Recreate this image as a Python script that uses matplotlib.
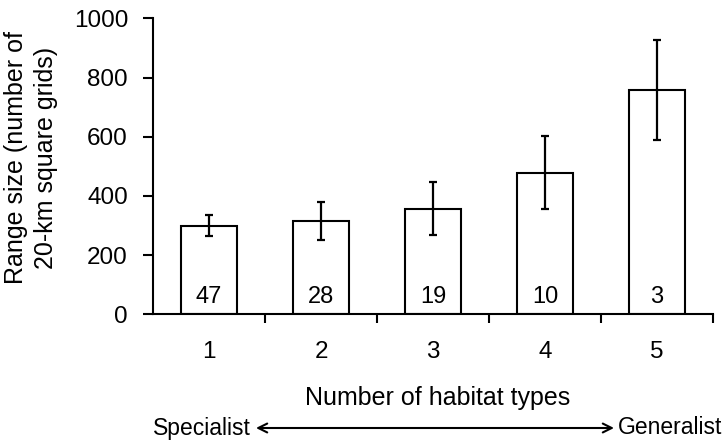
import matplotlib
matplotlib.use("Agg")
import matplotlib.pyplot as plt
import numpy as np

plt.rcParams['font.family'] = ['Liberation Sans', 'DejaVu Sans']

categories = ['1', '2', '3', '4', '5']
means = [299, 315, 356, 477, 758]
lows = [264, 250, 267, 355, 589]
highs = [335, 378, 446, 601, 927]
counts = ['47', '28', '19', '10', '3']
yticks = [0, 200, 400, 600, 800, 1000]

W, H = 728, 446
fig = plt.figure(figsize=(W / 100, H / 100), dpi=100)
ax = fig.add_axes([153 / W, 1 - 314.3 / H, (713 - 153) / W, (314.3 - 18.3) / H])

x = np.arange(len(categories))
means_a = np.array(means)
yerr = np.vstack([means_a - np.array(lows), np.array(highs) - means_a])
ax.bar(x, means, width=0.5, color='white', edgecolor='black', linewidth=1.5, zorder=2)
ax.errorbar(x, means, yerr=yerr, fmt='none', ecolor='black', elinewidth=1.6,
            capsize=2.8, capthick=1.6, zorder=3)

for xi, c in zip(x, counts):
    ax.annotate(c, (xi, 0), xytext=(0, 12.5), textcoords='offset points',
                ha='center', va='center', fontsize=17)

ax.set_xlim(-0.5, 4.5)
ax.set_ylim(0, 1000)
ax.set_yticks(yticks)
ax.set_yticklabels([str(v) for v in yticks], fontsize=17.5)
ax.set_xticks(x)
ax.set_xticklabels(categories, fontsize=17.5)
ax.set_xticks(np.arange(0.5, 5.0, 1.0), minor=True)
ax.tick_params(axis='x', which='major', length=0, pad=19)
ax.tick_params(axis='x', which='minor', length=6.5, width=1.5, direction='out')
ax.tick_params(axis='y', length=7, width=1.5, direction='out', pad=11)

for s in ['top', 'right']:
    ax.spines[s].set_visible(False)
for s in ['left', 'bottom']:
    ax.spines[s].set_linewidth(1.5)

fig.text(31 / W, 1 - 158 / H, 'Range size (number of\n20-km square grids)',
         rotation=90, ha='center', va='center', multialignment='center',
         fontsize=18, linespacing=1.35)
fig.text(437.5 / W, 1 - 398 / H, 'Number of habitat types', ha='center',
         va='center', fontsize=18)
fig.text(153 / W, 1 - 428 / H, 'Specialist', ha='left', va='center', fontsize=16.5)
fig.text(722 / W, 1 - 428 / H, 'Generalist', ha='right', va='center', fontsize=16.5)
fig.add_artist(matplotlib.patches.FancyArrowPatch(
    (256 / W, 1 - 428 / H), (614 / W, 1 - 428 / H), transform=fig.transFigure,
    arrowstyle='<->', mutation_scale=16, lw=1.5, color='black',
    shrinkA=0, shrinkB=0))

fig.savefig('out.png', dpi=100)
